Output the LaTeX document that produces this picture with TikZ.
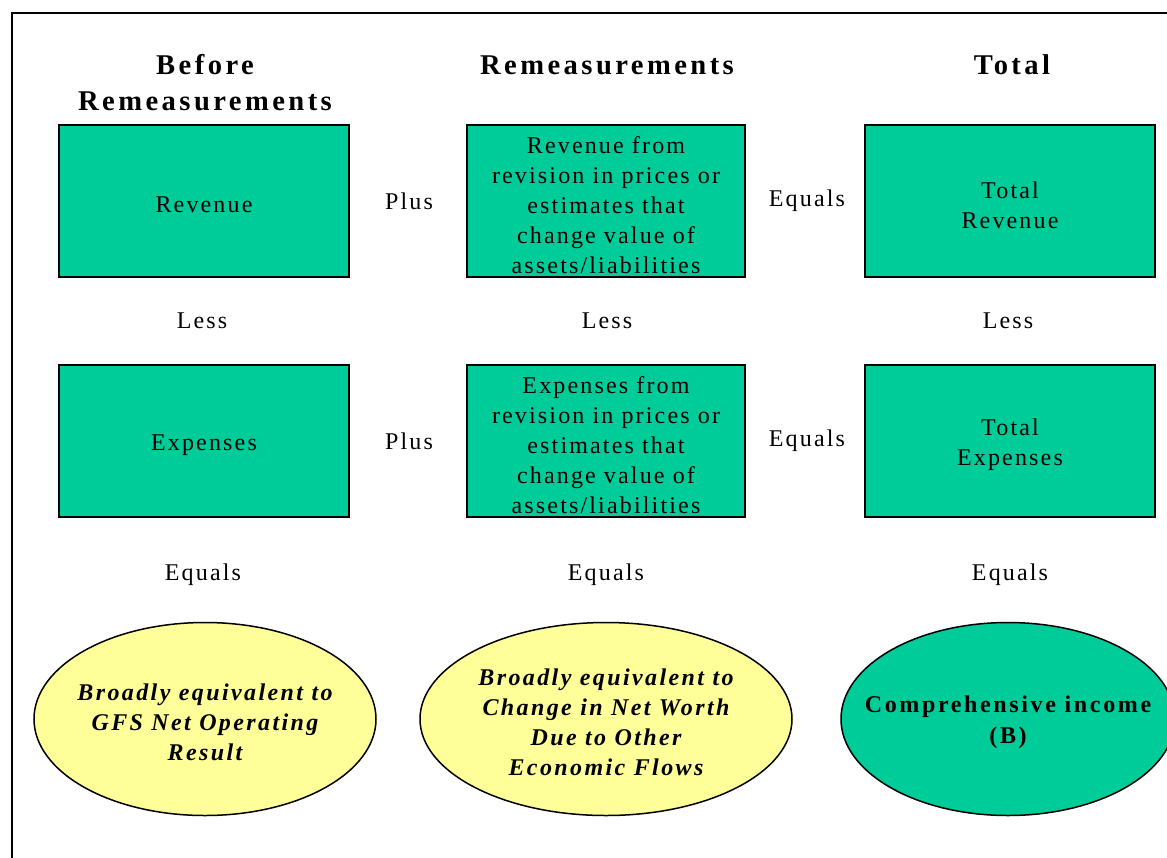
\documentclass[tikz,border=0pt]{standalone}
\usepackage{fontspec}
\setmainfont{Liberation Serif}
\usetikzlibrary{shapes.geometric}
\definecolor{boxgreen}{HTML}{00CC99}
\definecolor{paleyellow}{HTML}{FFFF99}

\begin{document}
\begin{tikzpicture}[x=1pt,y=-1pt,
  every node/.style={inner sep=0pt},
  heading/.style={font=\fontsize{28.6}{36}\selectfont\bfseries\addfontfeatures{LetterSpace=12}, align=center},
  label/.style={font=\fontsize{24}{30}\selectfont\addfontfeatures{LetterSpace=9}},
  itembox/.style={draw=black, line width=1.5pt, fill=boxgreen, minimum height=152pt},
  boxtxt/.style={font=\fontsize{24}{30}\selectfont\addfontfeatures{LetterSpace=9}, align=center, yshift=-4pt},
  oval/.style={ellipse, draw=black, line width=1.5pt, minimum height=193pt},
  ovaltxt/.style={font=\fontsize{24}{30}\selectfont\bfseries\itshape\addfontfeatures{LetterSpace=10}, align=center, yshift=-3pt},
  citxt/.style={font=\fontsize{24}{31}\selectfont\bfseries\addfontfeatures{LetterSpace=11}, align=center, yshift=-3pt},
]
\useasboundingbox (0,0) rectangle (1167,857);
\clip (0,0) rectangle (1167,857);

% outer frame
\draw[line width=2pt] (12,860) -- (12,13) -- (1170,13);

% column headings
\node[heading] (hbefore) at (205,83) {Before\\Remeasurements};
\node[heading] (hremeas) at (607,65) {Remeasurements};
\node[heading] (htotal)  at (1012,65) {Total};

% first row: revenue
\node[itembox, minimum width=290pt] (rev) at (204,201) {};
\node[boxtxt] (revtxt) at (rev) {Revenue};
\node[itembox, minimum width=278pt] (revremeas) at (606,201) {};
\node[boxtxt] (revremeastxt) at (revremeas)
  {Revenue from\\revision in prices or\\estimates that\\change value of\\assets/liabilities};
\node[itembox, minimum width=290pt] (totrev) at (1010,201) {};
\node[boxtxt] (totrevtxt) at (totrev) {Total\\Revenue};

% second row: expenses
\node[itembox, minimum width=290pt] (exp) at (204,441) {};
\node[boxtxt] (exptxt) at (exp) {Expenses};
\node[itembox, minimum width=278pt] (expremeas) at (606,441) {};
\node[boxtxt] (expremeastxt) at (expremeas)
  {Expenses from\\revision in prices or\\estimates that\\change value of\\assets/liabilities};
\node[itembox, minimum width=290pt] (totexp) at (1010,441) {};
\node[boxtxt] (totexptxt) at (totexp) {Total\\Expenses};

% operators between boxes
\node[label] (plus1)   at (409,201) {Plus};
\node[label] (equals1) at (807,201) {Equals};
\node[label] (plus2)   at (409,441) {Plus};
\node[label] (equals2) at (807,441) {Equals};
\node[label] (less1) at (202,321) {Less};
\node[label] (less2) at (607,321) {Less};
\node[label] (less3) at (1008,321) {Less};
\node[label] (eq1) at (203,575) {Equals};
\node[label] (eq2) at (606,575) {Equals};
\node[label] (eq3) at (1010,575) {Equals};

% results
\node[oval, fill=paleyellow, minimum width=342pt] (nor) at (205,719) {};
\node[ovaltxt] (nortxt) at (nor) {Broadly equivalent to\\GFS Net Operating\\Result};
\node[oval, fill=paleyellow, minimum width=372pt] (nw) at (606,719) {};
\node[ovaltxt] (nwtxt) at (nw)
  {Broadly equivalent to\\Change in Net Worth\\Due to Other\\Economic Flows};
\node[oval, fill=boxgreen, minimum width=334pt] (ci) at (1008,719) {};
\node[citxt] (citxt) at (ci) {Comprehensive income\\(B)};
\end{tikzpicture}
\end{document}
